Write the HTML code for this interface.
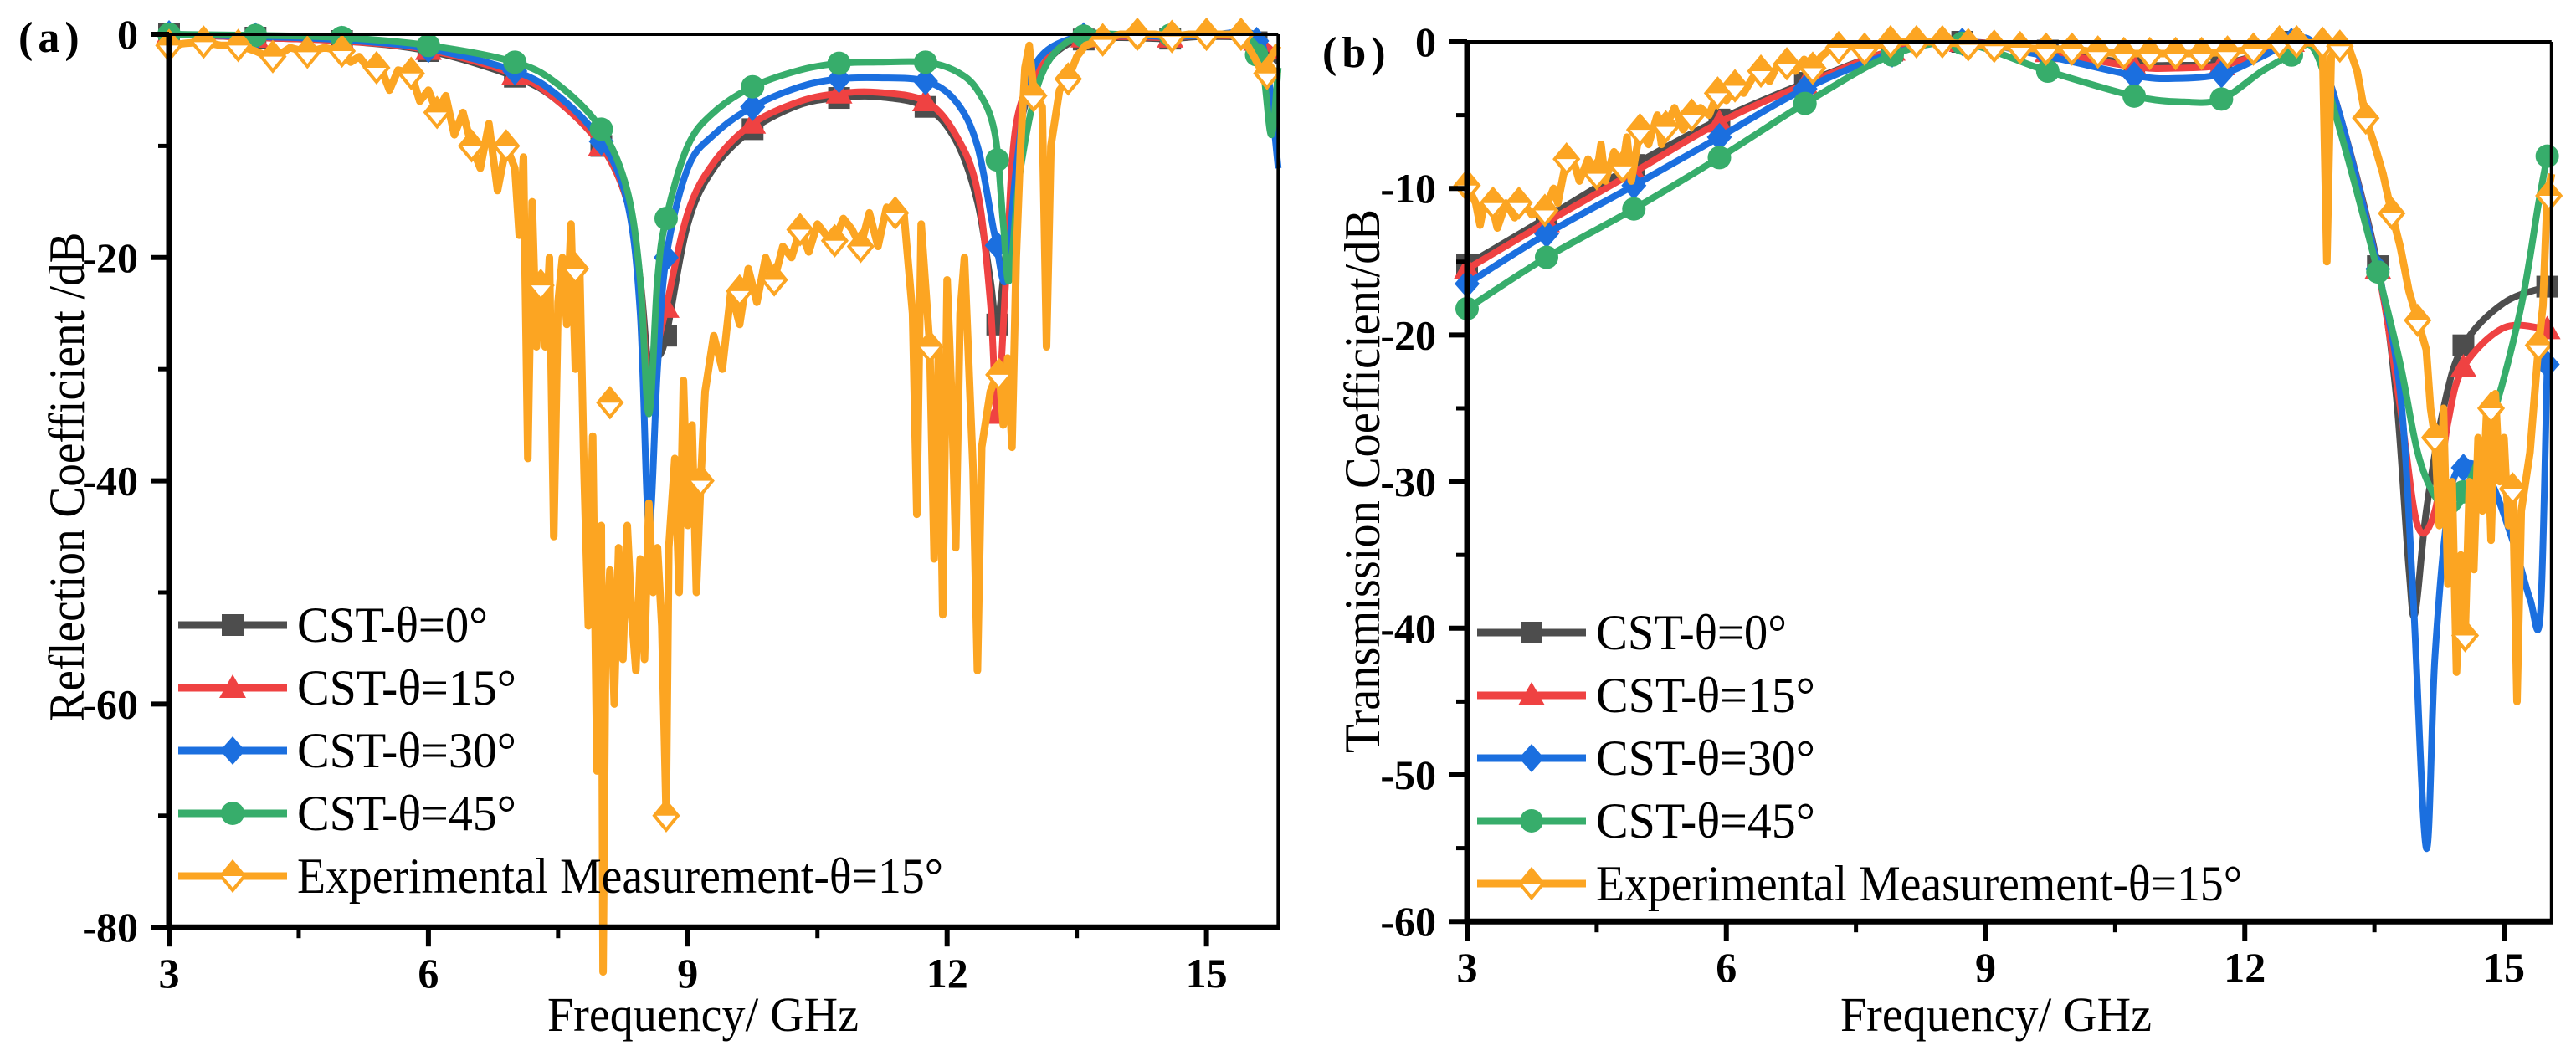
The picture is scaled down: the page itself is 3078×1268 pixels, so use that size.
<!DOCTYPE html>
<html><head><meta charset="utf-8">
<style>
html,body{margin:0;padding:0;background:#fff;}
svg{display:block;}
text{font-family:"Liberation Serif","DejaVu Serif",serif;fill:#000;}
.tick{font-weight:bold;font-size:50px;}
</style></head>
<body>
<svg id="fig" width="3078" height="1268" viewBox="0 0 3078 1268" xmlns="http://www.w3.org/2000/svg"></svg>
<script>
// ---------- Panel (a) data: Reflection coefficient ----------
const aF0 = [3,4,5,6,7,7.5,8,8.3,8.45,8.55,8.65,8.75,9,9.3,9.75,10.3,10.75,11.2,11.75,12.1,12.35,12.5,12.58,12.7,12.85,13.1,13.5,14,14.55,15,15.55,15.83];
const aV0 = [0,-0.3,-0.6,-1.5,-3.8,-6,-10,-15,-22,-30,-29,-27,-17,-12,-8.5,-6.3,-5.7,-5.6,-6.5,-9.5,-15,-22,-26,-18,-8,-3,-0.5,-0.3,-0.4,-0.2,-0.5,-2.5];
const aF15 = [3,4,5,6,7,7.5,8,8.3,8.45,8.55,8.65,8.75,9,9.3,9.75,10.3,10.75,11.2,11.75,12.1,12.35,12.5,12.58,12.68,12.8,13.1,13.5,14,14.55,15,15.55,15.83];
const aV15 = [0,-0.3,-0.6,-1.4,-3.6,-6,-10,-15,-22,-33,-28,-24.5,-16,-11.5,-8,-6,-5.3,-5.2,-6,-9,-14,-24,-34,-22,-8,-2.8,-0.3,-0.2,-0.3,-0.1,-0.4,-2];
const aF30 = [3,4,5,6,7,7.5,8,8.3,8.45,8.55,8.65,8.75,9,9.3,9.75,10.3,10.75,11.2,11.75,12.1,12.35,12.55,12.68,12.8,13,13.5,14,14.55,15,15.55,15.7,15.83];
const aV30 = [0,-0.2,-0.5,-1.3,-3.3,-5.5,-9.6,-15,-25,-44,-30,-20,-12,-9,-6.5,-4.7,-4,-3.9,-4.2,-6,-10,-18,-22,-12,-3,-0.2,-0.1,-0.2,-0.1,0,-3,-12];
const aF45 = [3,4,5,6,7,7.5,8,8.3,8.45,8.55,8.65,8.75,9,9.3,9.75,10.3,10.75,11.2,11.75,12.1,12.35,12.55,12.65,12.72,12.85,13.1,13.5,14,14.55,15,15.5,15.65,15.75,15.83];
const aV45 = [0,-0.1,-0.3,-1,-2.5,-4.5,-8.5,-14,-22,-34,-22,-16.5,-10,-7,-4.7,-3.2,-2.6,-2.5,-2.5,-3.3,-5,-8.8,-17,-22,-12,-3.5,-0.2,0,-0.1,0,-0.5,-3,-9,-3];
const aMarkF = [3,4,5,6,7,8,8.75,9.75,10.75,11.75,12.58,13.58,14.58,15.58];
const aExpF = [3,3.2,3.4,3.6,3.8,4.0,4.2,4.4,4.6,4.8,5.0,5.1,5.2,5.35,5.45,5.55,5.65,5.8,5.9,6.0,6.1,6.2,6.3,6.4,6.5,6.6,6.7,6.8,6.9,7.0,7.05,7.1,7.15,7.2,7.25,7.3,7.35,7.4,7.45,7.5,7.55,7.6,7.65,7.7,7.75,7.8,7.85,7.9,7.95,8.0,8.02,8.05,8.1,8.15,8.2,8.25,8.3,8.35,8.4,8.45,8.5,8.55,8.6,8.65,8.7,8.75,8.78,8.85,8.9,8.95,9.0,9.05,9.1,9.15,9.2,9.3,9.4,9.5,9.6,9.7,9.8,9.9,10.0,10.1,10.2,10.3,10.4,10.5,10.6,10.7,10.8,10.9,11.0,11.1,11.2,11.3,11.4,11.5,11.6,11.65,11.7,11.8,11.85,11.9,11.95,12.0,12.05,12.1,12.15,12.2,12.3,12.35,12.4,12.5,12.6,12.65,12.7,12.75,12.8,12.85,12.9,12.95,13.0,13.1,13.15,13.2,13.3,13.4,13.5,13.6,13.8,14.0,14.2,14.4,14.6,14.8,15.0,15.2,15.4,15.55,15.65,15.75,15.83];
const aExpV = [-1,-0.8,-0.7,-1,-1,-1.5,-2.2,-1.2,-1.6,-1.2,-1.5,-2.5,-2,-3.5,-3,-5,-3.2,-3.5,-6,-5,-7,-5.5,-9,-7,-10,-12,-8,-14,-10,-12,-18,-11,-38,-15,-28,-22,-28,-20,-45,-24,-20,-26,-17,-30,-21,-39,-53,-36,-66,-44,-84,-55,-48,-60,-46,-56,-44,-52,-57,-47,-56,-42,-50,-46,-53,-70,-46,-38,-50,-31,-44,-35,-50,-40,-32,-27,-30,-23,-26,-21,-24,-20,-22,-19,-20,-17.5,-19.5,-17,-18,-18.5,-16.5,-17.5,-19,-16,-19,-15.5,-17,-16,-25,-43,-17,-28,-47,-28,-52,-22,-32,-46,-25,-20,-39,-57,-37,-32,-30,-35,-29,-37,-20,-10,-3,-1,-5,-6.5,-28,-10,-5,-4,-2,-1,-0.5,0,0,0,-0.2,0,0,0,0,-2,-3.5,-2,-1];
const aExpMF = [3,3.4,3.8,4.2,4.6,5,5.4,5.8,6.1,6.5,6.9,7.3,7.7,8.1,8.75,9.15,9.6,10,10.3,10.7,11,11.4,11.8,12.6,13,13.4,13.8,14.2,14.6,15,15.4,15.7];
const aExpMV = [-1,-0.7,-1,-2,-1.6,-1.5,-3,-3.5,-7,-10,-10,-22.5,-21,-33,-70,-40,-23,-22,-17.5,-18.5,-19,-16,-28,-30.5,-5.5,-4,-0.5,0,-0.2,0,0,-3.5];
const aXTicks = [3,6,9,12,15];
const aYTicks = [0,-20,-40,-60,-80];

// ---------- Panel (b) data: Transmission coefficient ----------
const bF0 = [3,3.92,4.93,5.92,6.91,7.92,8.73,9.72,10.72,11.2,11.73,12.2,12.54,12.8,13.1,13.54,13.75,13.9,13.97,14.1,14.3,14.53,15,15.5];
const bV0 = [-15.2,-12,-8.4,-5.3,-2.8,-0.6,0,-0.6,-1.5,-1.6,-1.5,-0.8,0,-0.2,-5,-15.3,-24,-36,-39,-32,-25,-20.7,-17.8,-16.7];
const bF15 = [3,3.92,4.93,5.92,6.91,7.92,8.73,9.72,10.72,11.2,11.73,12.2,12.54,12.8,13.1,13.54,13.8,14.0,14.2,14.35,14.53,15,15.5];
const bV15 = [-15.5,-12.3,-8.9,-5.5,-2.9,-0.6,0,-0.7,-1.7,-1.8,-1.6,-0.8,0,-0.2,-5,-15.5,-25,-33,-32,-26,-22.2,-19.5,-19.6];
const bF30 = [3,3.92,4.93,5.92,6.91,7.92,8.73,9.72,10.72,11.2,11.73,12.2,12.54,12.8,13.1,13.54,13.8,13.95,14.1,14.2,14.35,14.5,14.8,15.1,15.3,15.42,15.5];
const bV30 = [-16.5,-13.1,-9.8,-6.5,-3.2,-0.8,0,-1,-2.3,-2.5,-2.2,-1,0,-0.2,-5,-15.5,-24,-38,-55,-42,-32,-29,-29.5,-34,-38,-39,-22];
const bF45 = [3,3.92,4.93,5.92,6.91,7.92,8.73,9.72,10.72,11.3,11.73,12.2,12.54,12.8,13.1,13.54,13.8,14.0,14.2,14.4,14.6,14.9,15.2,15.4,15.5];
const bV45 = [-18.2,-14.7,-11.4,-7.9,-4.2,-0.9,-0.1,-2,-3.7,-4.1,-3.9,-2,-0.9,-0.5,-6,-15.7,-22,-28,-31,-32,-30,-25,-18,-11,-7.8];
const bMarkF = [3,3.92,4.93,5.92,6.91,7.92,8.73,9.72,10.72,11.73,12.54,13.54,14.53,15.5];
const bExpF = [3,3.1,3.15,3.2,3.3,3.35,3.45,3.55,3.65,3.75,3.9,4.0,4.05,4.15,4.25,4.3,4.4,4.5,4.55,4.6,4.7,4.8,4.85,4.9,5.0,5.1,5.2,5.25,5.3,5.4,5.5,5.6,5.7,5.8,5.9,6.0,6.1,6.2,6.3,6.4,6.5,6.6,6.7,6.8,6.9,7.0,7.1,7.2,7.3,7.5,7.6,7.9,8.2,8.5,8.8,9.1,9.4,9.7,10,10.3,10.6,10.9,11.2,11.5,11.8,12.1,12.4,12.6,12.8,12.9,12.95,13.0,13.1,13.2,13.3,13.4,13.5,13.6,13.7,13.8,13.9,14.0,14.1,14.15,14.2,14.25,14.3,14.35,14.4,14.45,14.5,14.55,14.6,14.65,14.7,14.75,14.8,14.85,14.9,14.95,15.0,15.05,15.1,15.15,15.2,15.3,15.4,15.45,15.5,15.55];
const bExpV = [-9.8,-11,-12.5,-11,-11.5,-12.7,-11,-12,-11,-11.8,-11.5,-10,-11,-8,-8.5,-9.5,-8,-9,-7,-9.5,-7.5,-8.5,-6.5,-9.5,-6,-7,-5,-7,-5.8,-4.5,-6,-5,-4.5,-5,-3.5,-4,-3,-3.5,-2.5,-2,-2.7,-1.5,-1.5,-2,-1.2,-1.8,-1,-0.5,-0.4,-0.3,-0.5,0,0,0,-0.2,-0.3,-0.4,-0.5,-0.5,-0.7,-0.8,-0.8,-0.8,-0.8,-0.7,-0.5,0,0,-0.1,-0.5,-15,-1,0,-0.3,-2,-5.2,-7,-9,-11.7,-14,-17,-19,-21,-25,-27,-33,-25,-37,-30,-43,-35,-40.5,-30,-36,-27,-32,-25,-34,-24,-30,-27,-33,-30.5,-45,-32,-28,-20.7,-18,-10.5,-9];
const bExpMF = [3,3.3,3.6,3.9,4.15,4.5,4.8,5.0,5.3,5.6,5.9,6.1,6.4,6.7,7.0,7.3,7.6,7.9,8.2,8.5,8.8,9.1,9.4,9.7,10,10.3,10.6,10.9,11.2,11.5,11.8,12.1,12.4,12.6,12.9,13.1,13.4,13.7,14.0,14.2,14.55,14.85,15.1,15.4,15.52];
const bExpMV = [-9.8,-11,-11,-11.5,-8,-9,-8.5,-6,-5.8,-5,-3.5,-3,-2,-1.5,-1.8,-0.4,-0.5,0,0,0,-0.2,-0.3,-0.4,-0.5,-0.5,-0.7,-0.8,-0.8,-0.8,-0.8,-0.7,-0.5,0,0,-0.1,-0.3,-5.2,-11.7,-19,-27,-40.5,-25,-30.5,-20.7,-10.5];
const bXTicks = [3,6,9,12,15];
const bYTicks = [0,-10,-20,-30,-40,-50,-60];

const legendLabels = ["CST-θ=0°","CST-θ=15°","CST-θ=30°","CST-θ=45°","Experimental Measurement-θ=15°"];
const COLORS = ["#4d4d4d","#ef4242","#1b6fdf","#37ad6b","#fca522"];
const MARKS = ["square","triangle","diamond","circle","halfdiamond"];

const NS = "http://www.w3.org/2000/svg";
const svg = document.getElementById("fig");
function mk(tag, attrs, parent){
  const e = document.createElementNS(NS, tag);
  for (const k in attrs) e.setAttribute(k, attrs[k]);
  (parent||svg).appendChild(e);
  return e;
}
function interp(fs, vs, f){
  if (f<=fs[0]) return vs[0];
  for (let i=1;i<fs.length;i++){ if (f<=fs[i]){ const t=(f-fs[i-1])/(fs[i]-fs[i-1]); return vs[i-1]+t*(vs[i]-vs[i-1]); } }
  return vs[vs.length-1];
}
function smoothPath(pts){
  let d = "M"+pts[0][0].toFixed(1)+","+pts[0][1].toFixed(1);
  for (let i=0;i<pts.length-1;i++){
    const p0=pts[Math.max(0,i-1)], p1=pts[i], p2=pts[i+1], p3=pts[Math.min(pts.length-1,i+2)];
    const c1=[p1[0]+(p2[0]-p0[0])/6, p1[1]+(p2[1]-p0[1])/6];
    const c2=[p2[0]-(p3[0]-p1[0])/6, p2[1]-(p3[1]-p1[1])/6];
    d+=" C"+c1[0].toFixed(1)+","+c1[1].toFixed(1)+" "+c2[0].toFixed(1)+","+c2[1].toFixed(1)+" "+p2[0].toFixed(1)+","+p2[1].toFixed(1);
  }
  return d;
}
function marker(type, cx, cy, color, g){
  let e;
  if (type==="square") e = mk("rect",{x:cx-13,y:cy-13,width:26,height:26,fill:color},g);
  else if (type==="triangle") e = mk("polygon",{points:`${cx},${cy-16} ${cx+16},${cy+12} ${cx-16},${cy+12}`,fill:color},g);
  else if (type==="diamond") e = mk("polygon",{points:`${cx},${cy-17} ${cx+15},${cy} ${cx},${cy+17} ${cx-15},${cy}`,fill:color},g);
  else if (type==="circle") e = mk("circle",{cx:cx,cy:cy,r:14,fill:color},g);
  else {
    e = mk("g",{},g);
    mk("polygon",{points:`${cx},${cy-17} ${cx+14},${cy} ${cx},${cy+17} ${cx-14},${cy}`,fill:"#fff",stroke:color,"stroke-width":4},e);
    mk("polygon",{points:`${cx},${cy-17} ${cx+14},${cy} ${cx-14},${cy}`,fill:color},e);
  }
  return e;
}

function drawPanel(cfg){
  const g = mk("g",{});
  
  
  const X = f => cfg.x0 + (f-3)*cfg.pxF;
  const Y = v => cfg.y0 - v*cfg.pxD;
  const left = cfg.x0, right = X(cfg.fmax), top = Y(0), bottom = Y(cfg.vmin);

  const series = cfg.series;
  series.forEach((s,i)=>{
    const sg = mk("g",{},g);
    
    
    const pts = s.f.map((f,j)=>[X(f),Y(s.v[j])]);
    let d;
    if (i<4) d = smoothPath(pts);
    else d = "M"+pts.map(p=>p[0].toFixed(1)+","+p[1].toFixed(1)).join(" L");
    const p = mk("path",{d:d,fill:"none",stroke:COLORS[i],"stroke-width":i<4?8:9,"stroke-linejoin":"round"},sg);
    
    
    s.mf.forEach((f,j)=>{
      const v = s.mv ? s.mv[j] : interp(s.f,s.v,f);
      const m = marker(MARKS[i], X(f), Y(v), COLORS[i], sg);
      
      
    });
  });

  const fr = mk("g",{},g);
  
  
  mk("line",{x1:left,y1:top,x2:right,y2:top,stroke:"#000","stroke-width":4},fr);
  mk("line",{x1:right,y1:top,x2:right,y2:bottom,stroke:"#000","stroke-width":4},fr);
  mk("line",{x1:left,y1:top-2,x2:left,y2:bottom+3,stroke:"#000","stroke-width":7},fr);
  mk("line",{x1:left-3,y1:bottom,x2:right+2,y2:bottom,stroke:"#000","stroke-width":7},fr);

  const xa = mk("g",{},g);
  
  
  cfg.xticks.forEach(t=>{
    mk("line",{x1:X(t),y1:bottom,x2:X(t),y2:bottom+23,stroke:"#000","stroke-width":6},xa);
    const tx = mk("text",{x:X(t),y:bottom+72,"text-anchor":"middle",class:"tick"},xa);
    tx.textContent = t;
    
    
    const mt = t+1.5;
    if (mt < cfg.fmax) mk("line",{x1:X(mt),y1:bottom,x2:X(mt),y2:bottom+13,stroke:"#000","stroke-width":5},xa);
  });
  const ya = mk("g",{},g);
  
  
  cfg.yticks.forEach((t,k)=>{
    mk("line",{x1:left-22,y1:Y(t),x2:left,y2:Y(t),stroke:"#000","stroke-width":6},ya);
    const ty = mk("text",{x:left-37,y:Y(t)+17,"text-anchor":"end",class:"tick"},ya);
    ty.textContent = t;
    
    
    if (k < cfg.yticks.length-1){
      const mt = (t + cfg.yticks[k+1])/2;
      mk("line",{x1:left-13,y1:Y(mt),x2:left,y2:Y(mt),stroke:"#000","stroke-width":5},ya);
    }
  });

  const xt = mk("text",{x:cfg.xTitleX,y:1232,"text-anchor":"middle","font-size":58,textLength:372,lengthAdjust:"spacingAndGlyphs"},g);
  xt.textContent = "Frequency/ GHz";
  
  
  const yt = mk("text",{x:0,y:0,"text-anchor":"middle","font-size":60,textLength:cfg.yTitleLen,lengthAdjust:"spacingAndGlyphs",transform:`translate(${cfg.yTitleX},${cfg.yTitleY}) rotate(-90)`},g);
  yt.textContent = cfg.yTitle;
  
  
  const pl = mk("text",{x:cfg.labX,y:cfg.labY,"font-size":52,"font-weight":"bold","letter-spacing":6},g);
  pl.textContent = cfg.label;
  
  

  const lg = mk("g",{},g);
  
  
  legendLabels.forEach((lab,i)=>{
    const ly = cfg.legY + i*75;
    const eg = mk("g",{},lg);
    
    
    mk("line",{x1:cfg.legX,y1:ly,x2:cfg.legX+130,y2:ly,stroke:COLORS[i],"stroke-width":9},eg);
    marker(MARKS[i], cfg.legX+65, ly, COLORS[i], eg);
    const tl = mk("text",{x:cfg.legX+142,y:ly+20,"font-size":60,textLength:i===4?772:(i===0?228:262),lengthAdjust:"spacingAndGlyphs"},eg);
    tl.textContent = lab;
  });
}

drawPanel({name:"chart-a-reflection", x0:202, pxF:103.3, y0:41, pxD:13.34, fmax:15.83, vmin:-80,
  xticks:aXTicks, yticks:aYTicks, xTitleX:840, yTitleX:100, yTitleY:570, yTitleLen:585,
  yTitle:"Reflection Coefficient /dB", label:"(a)", labX:22, labY:62, legX:213, legY:747,
  series:[
    {id:"cst-0",f:aF0,v:aV0,mf:aMarkF},
    {id:"cst-15",f:aF15,v:aV15,mf:aMarkF},
    {id:"cst-30",f:aF30,v:aV30,mf:aMarkF},
    {id:"cst-45",f:aF45,v:aV45,mf:aMarkF},
    {id:"experimental",f:aExpF,v:aExpV,mf:aExpMF,mv:aExpMV}
  ]});
drawPanel({name:"chart-b-transmission", x0:1753, pxF:103.25, y0:50, pxD:17.52, fmax:15.55, vmin:-60,
  xticks:bXTicks, yticks:bYTicks, xTitleX:2385, yTitleX:1648, yTitleY:575, yTitleLen:650,
  yTitle:"Transmission Coefficient/dB", label:"(b)", labX:1580, labY:80, legX:1765, legY:756,
  series:[
    {id:"cst-0",f:bF0,v:bV0,mf:bMarkF},
    {id:"cst-15",f:bF15,v:bV15,mf:bMarkF},
    {id:"cst-30",f:bF30,v:bV30,mf:bMarkF},
    {id:"cst-45",f:bF45,v:bV45,mf:bMarkF},
    {id:"experimental",f:bExpF,v:bExpV,mf:bExpMF,mv:bExpMV}
  ]});
</script>
</body></html>
